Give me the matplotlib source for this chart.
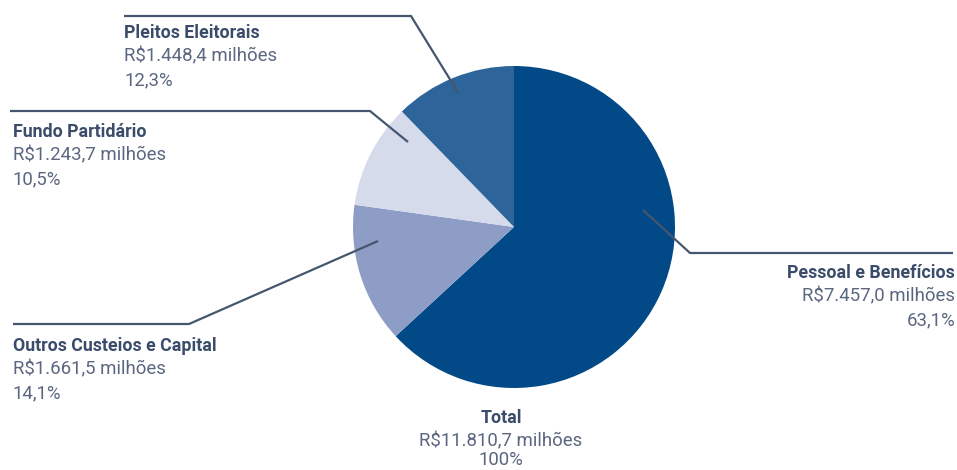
import matplotlib
matplotlib.use("Agg")
from matplotlib import pyplot as plt

categories = ["Pessoal e Benefícios", "Outros Custeios e Capital",
              "Fundo Partidário", "Pleitos Eleitorais"]
values = [7457.0, 1661.5, 1243.7, 1448.4]
value_labels = ["R$7.457,0 milhões", "R$1.661,5 milhões",
                "R$1.243,7 milhões", "R$1.448,4 milhões"]
pct_labels = ["63,1%", "14,1%", "10,5%", "12,3%"]
total_label = "R$11.810,7 milhões"
colors = ["#024a87", "#8e9dc6", "#d6dbec", "#2d6499"]

W, H = 957, 470
TITLE_C = "#3a4c6a"
BODY_C = "#5b6780"
LINE_C = "#45566f"

plt.rcParams["font.family"] = ["Roboto", "DejaVu Sans"]

fig = plt.figure(figsize=(W / 100, H / 100), dpi=100)
ax = fig.add_axes([0, 0, 1, 1])


def Y(y):
    # pixel rows from the top -> data coords
    return H - y


ax.pie(values, startangle=90, counterclock=False, colors=colors,
       center=(514, Y(227)), radius=161,
       wedgeprops=dict(linewidth=0))
ax.set_xlim(0, W)
ax.set_ylim(0, H)
ax.set_aspect("equal")
ax.set_axis_off()

# leader lines (pixel coords)
leaders = [
    [(643, 210), (690, 253), (953, 253)],
    [(378, 241), (189, 324), (13, 324)],
    [(408, 142), (370, 111), (10, 111)],
    [(459, 94), (411, 16), (124, 16)],
]
for pts in leaders:
    ax.plot([p[0] for p in pts], [Y(p[1]) for p in pts],
            color=LINE_C, lw=1.6, solid_capstyle="butt")

# label blocks: (x, top row y, alignment)
blocks = [(955, 273, "right"), (13, 346, "left"),
          (13, 132, "left"), (124, 33, "left")]
FS_T = 12.8
FS_B = 13.4
for i, (x, y, ha) in enumerate(blocks):
    ax.text(x, Y(y), categories[i], ha=ha, va="center", fontsize=FS_T,
            fontweight="bold", color=TITLE_C)
    ax.text(x, Y(y + 23.5), value_labels[i], ha=ha, va="center",
            fontsize=FS_B, color=BODY_C)
    ax.text(x, Y(y + 47), pct_labels[i], ha=ha, va="center",
            fontsize=FS_B, color=BODY_C)

ax.text(501, Y(418), "Total", ha="center", va="center", fontsize=FS_T,
        fontweight="bold", color=TITLE_C)
ax.text(501, Y(441), total_label, ha="center", va="center", fontsize=FS_B,
        color=BODY_C)
ax.text(501, Y(460), "100%", ha="center", va="center", fontsize=FS_B,
        color=BODY_C)

fig.savefig("out.png", dpi=100, facecolor="white")
